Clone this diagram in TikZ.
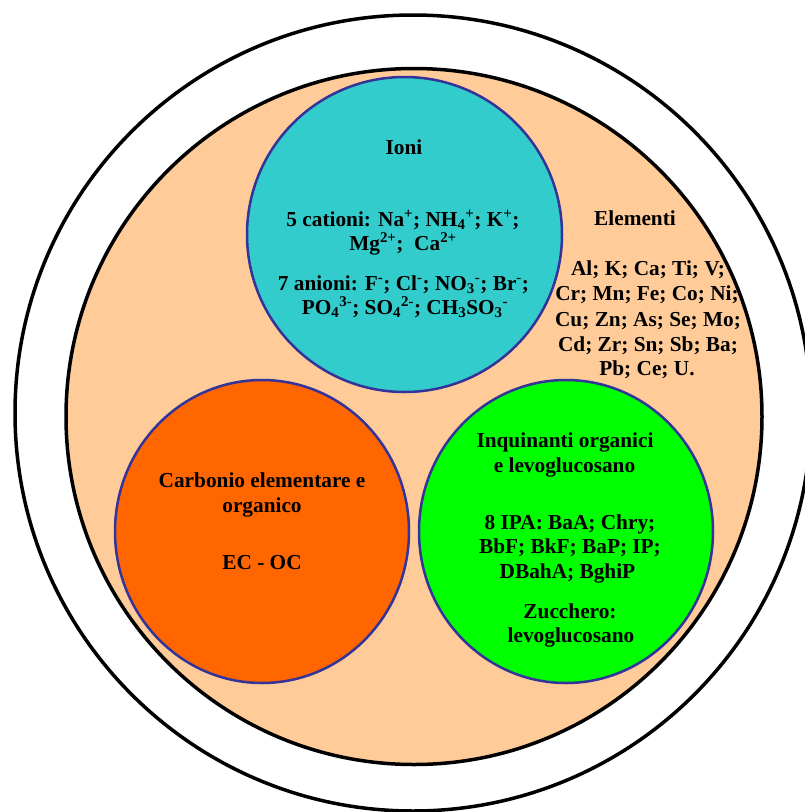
\documentclass[tikz,border=0pt]{standalone}
\usepackage{fontspec}
\setmainfont{Liberation Serif}
\definecolor{peach}{HTML}{FFCC99}
\definecolor{ioncyan}{HTML}{33CCCC}
\definecolor{carbor}{HTML}{FF6600}
\definecolor{inqgreen}{HTML}{00FF00}
\definecolor{rim}{HTML}{333399}
\newcommand{\sps}[1]{\textsuperscript{#1}}
\newcommand{\sbs}[1]{\textsubscript{#1}}
\begin{document}
\begin{tikzpicture}[x=1pt,y=-1pt,
  lbl/.style={anchor=base, inner sep=0pt, text=black,
    font=\fontsize{21.3}{24.5}\selectfont\bfseries},
  blob/.style={draw=rim, line width=2.5pt},
  ring/.style={draw=black, line width=3.5pt}]
\useasboundingbox (0,0) rectangle (805,812);
\fill[white] (0,0) rectangle (805,812);
\begin{scope}
\clip (0,0) rectangle (805,812);
\draw[ring, fill=white] (413,413) circle[radius=398];
\draw[ring, fill=peach] (414,416.5) circle[radius=348];
\draw[blob, fill=ioncyan] (404.5,234.5) circle[radius=157.5];
\draw[blob, fill=carbor] (262,531.5) ellipse[x radius=147, y radius=151.5];
\draw[blob, fill=inqgreen] (566,531.5) ellipse[x radius=147, y radius=151.5];
\end{scope}

% Ioni
\node[lbl] (ioni) at (404,154) {Ioni};
\node[lbl] (cat1) at (403,226) {5 cationi: Na\sps{+}; NH\sbs{4}\sps{+}; K\sps{+};};
\node[lbl] (cat2) at (403,250) {Mg\sps{2+};\ \ Ca\sps{2+}};
\node[lbl] (an1) at (403.5,290) {7 anioni: F\sps{-}; Cl\sps{-}; NO\sbs{3}\sps{-}; Br\sps{-};};
\node[lbl] (an2) at (405,314) {PO\sbs{4}\sps{3-}; SO\sbs{4}\sps{2-}; CH\sbs{3}SO\sbs{3}\sps{-}};

% Elementi
\node[lbl] (elt) at (635,225) {Elementi};
\node[lbl] (el1) at (648,275.5) {Al; K; Ca; Ti; V;};
\node[lbl] (el2) at (647,300.5) {Cr; Mn; Fe; Co; Ni;};
\node[lbl] (el3) at (648,326) {Cu; Zn; As; Se; Mo;};
\node[lbl] (el4) at (648,351) {Cd; Zr; Sn; Sb; Ba;};
\node[lbl] (el5) at (647,375.5) {Pb; Ce; U.};

% Carbonio
\node[lbl] (ca1) at (262,487) {Carbonio elementare e};
\node[lbl] (ca2) at (262,512) {organico};
\node[lbl] (ca3) at (262,569) {EC - OC};

% Inquinanti
\node[lbl] (in1) at (565,447) {Inquinanti organici};
\node[lbl] (in2) at (564.5,472) {e levoglucosano};
\node[lbl] (ip1) at (570,529) {8 IPA: BaA; Chry;};
\node[lbl] (ip2) at (570,553) {BbF; BkF; BaP; IP;};
\node[lbl] (ip3) at (567.5,578) {DBahA; BghiP};
\node[lbl] (zu1) at (570,618) {Zucchero:};
\node[lbl] (zu2) at (571,642) {levoglucosano};
\end{tikzpicture}
\end{document}
